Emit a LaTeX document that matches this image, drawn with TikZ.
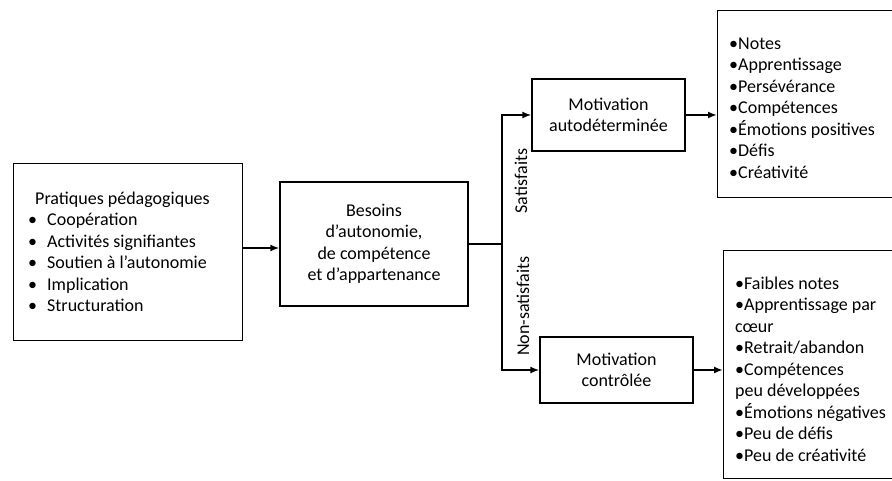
\documentclass[tikz,border=0pt]{standalone}
\usepackage{fontspec}
\setmainfont{Carlito}
\usetikzlibrary{arrows.meta}
\begin{document}
\begin{tikzpicture}[x=1pt,y=-1pt,
  boxstyle/.style={draw, line width=1.2pt, inner sep=0pt},
  txt/.style={font=\fontsize{18}{21.5}\selectfont, inner sep=0pt, align=center},
  conn/.style={line width=1.8pt},
  arr/.style={line width=1.8pt, -{Latex[length=9pt,width=7pt]}},
  lab/.style={font=\fontsize{18}{21}\selectfont, rotate=90, inner sep=0pt}]
\useasboundingbox (0,0) rectangle (892,481);
\clip (0,0) rectangle (892,481);
% box 1
\node[boxstyle, minimum width=229pt, minimum height=177pt, anchor=north west] (p) at (13,163) {};
\node[txt, align=left, anchor=west] (pt) at (28,252) {\hspace*{7pt}Pratiques pédagogiques\\
\makebox[19pt][l]{•}Coopération\\
\makebox[19pt][l]{•}Activités signifiantes\\
\makebox[19pt][l]{•}Soutien à l’autonomie\\
\makebox[19pt][l]{•}Implication\\
\makebox[19pt][l]{•}Structuration};
% box 2
\node[boxstyle, txt, minimum width=188pt, minimum height=124pt] (b) at (374,244) {Besoins\\d’autonomie,\\de compétence\\et d’appartenance};
% box 3 and 4
\node[boxstyle, txt, minimum width=153pt, minimum height=72pt] (m1) at (608.5,115) {Motivation\\autodéterminée};
\node[boxstyle, txt, minimum width=153pt, minimum height=66pt] (m2) at (616.5,370) {Motivation\\contrôlée};
% box 5
\node[boxstyle, minimum width=250pt, minimum height=187pt, anchor=north west] (o1) at (717,10) {};
\node[txt, align=left, anchor=west] (o1t) at (729,108) {•Notes\\•Apprentissage\\•Persévérance\\•Compétences\\•Émotions positives\\•Défis\\•Créativité};
% box 6
\node[boxstyle, minimum width=250pt, minimum height=228pt, anchor=north west] (o2) at (723,250) {};
\node[txt, align=left, anchor=west] (o2t) at (735,369) {•Faibles notes\\•Apprentissage par\\cœur\\•Retrait/abandon\\•Compétences\\peu développées\\•Émotions négatives\\•Peu de défis\\•Peu de créativité};
% connectors
\draw[arr] (p.east |- 0,248) -- (b.west |- 0,248);
\coordinate (j) at (502,244);
\draw[conn] (b.east) -- (j);
\draw[arr] (j) |- (m1.west);
\draw[arr] (j) |- (m2.west);
\draw[arr] (m1.east) -- (m1.east -| o1.west);
\draw[arr] (m2.east) -- (m2.east -| o2.west);
% labels
\node[lab] (sat) at (521,181) {Satisfaits};
\node[lab] (nsat) at (523,306) {Non-satisfaits};
\end{tikzpicture}
\end{document}
